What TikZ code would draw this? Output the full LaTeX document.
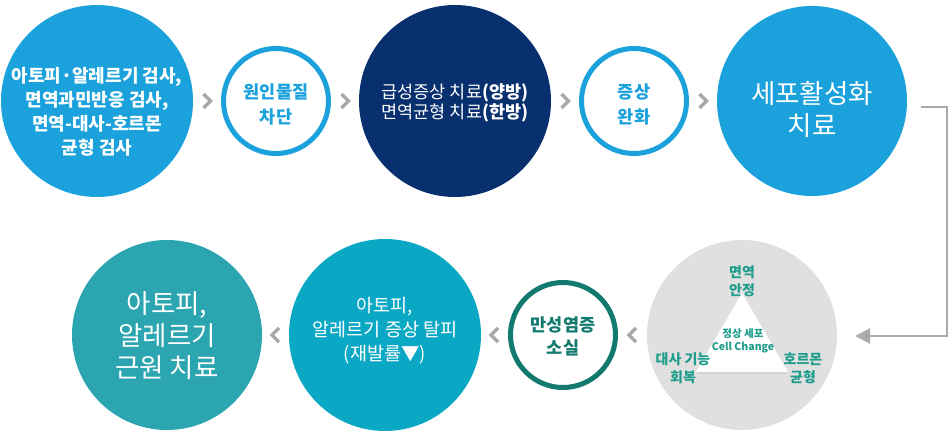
\documentclass[tikz,border=0pt]{standalone}
\usepackage{fontspec}
\setmainfont{Noto Sans CJK KR}
\usepackage{tikz}
\usetikzlibrary{positioning,calc,arrows.meta,shadows}

\definecolor{skyblue}{HTML}{1BA1DB}
\definecolor{navy}{HTML}{082F6E}
\definecolor{cellgray}{HTML}{E0E0E0}
\definecolor{seablue}{HTML}{0BA8C5}
\definecolor{sea}{HTML}{2BA5AF}
\definecolor{deepteal}{HTML}{137A70}
\definecolor{labteal}{HTML}{1E9C8C}
\definecolor{chevgray}{HTML}{A8A8A8}
\definecolor{linegray}{HTML}{ABABAB}

\begin{document}
\begin{tikzpicture}[x=1pt,y=-1pt,
	big/.style={circle,minimum size=#1,inner sep=0pt,outer sep=0pt},
	ring/.style={circle,draw=#1,line width=5pt,fill=white,minimum size=105pt,inner sep=0pt,outer sep=2.5pt},
	txt/.style={align=center,text=white,inner sep=0pt},
	lab/.style={align=center,text=labteal,inner sep=0pt,font=\bfseries\fontsize{14}{18}\selectfont},
	chev/.style={draw=chevgray,line width=3.5pt,miter limit=10}]
	\useasboundingbox (0,0) rectangle (950,438);
	
	% top row
	\node[big=192pt,fill=skyblue] (c1) at (97,101) {};
	\node[txt,font=\bfseries\fontsize{18}{24}\selectfont] (t1) at ($(c1)+(0,11)$) {아토피·알레르기 검사,\\면역과민반응 검사,\\면역-대사-호르몬\\균형 검사};
	
	\node[ring=skyblue,right=28pt of c1] (c2) {};
	\node[txt,text=skyblue,font=\bfseries\fontsize{17.5}{25}\selectfont] (t2) at ($(c2)+(0,3.5)$) {원인물질\\차단};
	
	\node[big=192pt,fill=navy,right=28pt of c2] (c3) {};
	\node[txt,font=\fontsize{17.5}{20.5}\selectfont] (t3) at ($(c3)+(0,2)$) {급성증상 치료\textbf{(양방)}\\면역균형 치료\textbf{(한방)}};
	
	\node[ring=skyblue,right=28pt of c3] (c4) {};
	\node[txt,text=skyblue,font=\bfseries\fontsize{17.5}{25}\selectfont] (t4) at ($(c4)+(0,3.5)$) {증상\\완화};
	
	\node[big=190pt,fill=skyblue,right=28pt of c4] (c5) {};
	\node[txt,font=\fontsize{26.5}{32}\selectfont] (t5) at ($(c5)+(0,8)$) {세포활성화\\치료};
	
	\draw[chev] ($(c1.east)!.5!(c2.west)$) ++(-3.5,-7) -- ++(7,7) -- ++(-7,7);
	\draw[chev] ($(c2.east)!.5!(c3.west)$) ++(-3.5,-7) -- ++(7,7) -- ++(-7,7);
	\draw[chev] ($(c3.east)!.5!(c4.west)$) ++(-3.5,-7) -- ++(7,7) -- ++(-7,7);
	\draw[chev] ($(c4.east)!.5!(c5.west)$) ++(-3.5,-7) -- ++(7,7) -- ++(-7,7);
	
	% bottom row
	\node[big=190pt,fill=cellgray] (g) at (742,335) {};
	\fill[white,drop shadow={shadow xshift=0pt,shadow yshift=-1.5pt,opacity=.18}]
		($(g)+(0,-42)$) -- ($(g)+(-46,37)$) -- ($(g)+(46,37)$) -- cycle;
	\node[lab] (immune) at ($(g)+(0,-54)$) {면역\\안정};
	\node[lab] (meta) at ($(g)+(-59,33)$) {대사 기능\\회복};
	\node[lab] (horm) at ($(g)+(61,33)$) {호르몬\\균형};
	\node[lab,font=\bfseries\fontsize{10.5}{13}\selectfont] (core) at ($(g)+(1,6)$) {정상 세포\\Cell Change};
	
	\node[ring=deepteal,left=29pt of g] (c7) {};
	\node[txt,text=deepteal,font=\bfseries\fontsize{17.5}{23}\selectfont] (t7) at ($(c7)+(0,1.5)$) {만성염증\\소실};
	
	\node[big=192pt,fill=seablue,left=27pt of c7] (c8) {};
	\node[txt,font=\fontsize{18.5}{24}\selectfont] (t8) at ($(c8)+(0,-4)$) {아토피,\\알레르기 증상 탈피\\(재발률▼)};
	
	\node[big=190pt,fill=sea,left=27pt of c8] (c9) {};
	\node[txt,font=\fontsize{26.5}{32}\selectfont] (t9) at ($(c9)+(0,1)$) {아토피,\\알레르기\\근원 치료};
	
	\draw[chev] ($(g.west)!.5!(c7.east)$) ++(3.5,-7) -- ++(-7,7) -- ++(7,7);
	\draw[chev] ($(c7.west)!.5!(c8.east)$) ++(3.5,-7) -- ++(-7,7) -- ++(7,7);
	\draw[chev] ($(c8.west)!.5!(c9.east)$) ++(3.5,-7) -- ++(-7,7) -- ++(7,7);
	
	% return line
	\coordinate (from) at ($(c5.east)+(14,6)$);
	\coordinate (to) at ($(g.east)+(18,1)$);
	\draw[linegray,line width=2pt,-{Triangle[length=15pt,width=15pt]}] (from) -- ++(26,0) |- (to);
\end{tikzpicture}
\end{document}
